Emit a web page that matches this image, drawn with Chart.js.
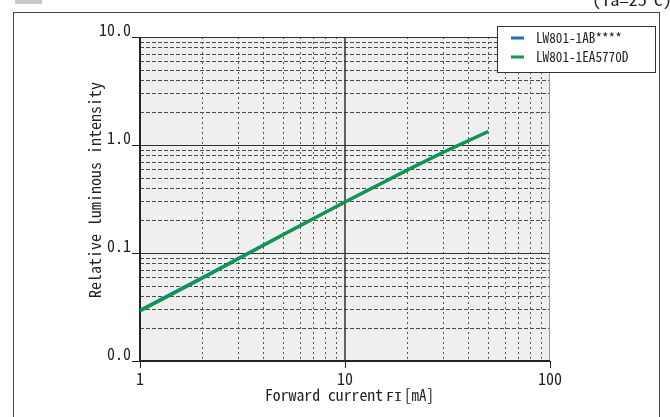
<!DOCTYPE html>
<html>
<head>
<meta charset="utf-8">
<script src="https://cdn.jsdelivr.net/npm/chart.js@4.4.1/dist/chart.umd.min.js"></script>
<style>
  html, body { margin: 0; padding: 0; background: #fff; }
  #wrap { width: 670px; height: 417px; position: relative; }
</style>
</head>
<body>
<div id="wrap"><canvas id="chart" width="670" height="417"></canvas></div>
<script>
// forward current [mA] and relative luminous intensity
const currents = [1, 2, 5, 10, 20, 30, 50];
const lw801_1ab = [0.0295, 0.059, 0.149, 0.298, 0.585, 0.855, 1.33];
const lw801_1ea = [0.029, 0.058, 0.147, 0.295, 0.58, 0.85, 1.34];
const seriesNames = ['LW801-1AB****', 'LW801-1EA5770D'];
const seriesColors = ['#1f6fc0', '#0b9a4a'];
const xTicks = [1, 10, 100];
const yTicks = [0.01, 0.1, 1, 10];
const yTickLabels = ['0.0', '0.1', '1.0', '10.0'];

const FONT = '"Noto Sans Mono CJK JP", "DejaVu Sans Mono", monospace';

function pts(ys) {
  return currents.map((x, i) => ({ x: x, y: ys[i] }));
}

// draw text squeezed to a given width (the original font is narrow)
function fitText(ctx, text, x, y, w) {
  const m = ctx.measureText(text).width;
  ctx.save();
  ctx.translate(x, y);
  ctx.scale(w / m, 1);
  ctx.fillText(text, 0, 0);
  ctx.restore();
}

const gridPlugin = {
  id: 'grid',
  beforeDatasetsDraw(chart) {
    const ctx = chart.ctx;
    const { left, right, top, bottom } = chart.chartArea;
    const xs = chart.scales.x, ys = chart.scales.y;
    ctx.save();
    ctx.fillStyle = '#efefef';
    ctx.fillRect(left, top, right - left, bottom - top);

    // minor horizontals
    ctx.strokeStyle = '#4a4a4a';
    ctx.lineWidth = 1;
    ctx.setLineDash([4, 2]);
    [0.01, 0.1, 1].forEach(d => {
      for (let m = 2; m <= 9; m++) {
        const y = Math.round(ys.getPixelForValue(m * d)) + 0.5;
        ctx.beginPath(); ctx.moveTo(left, y); ctx.lineTo(right, y); ctx.stroke();
      }
    });
    // minor verticals
    ctx.strokeStyle = '#555';
    ctx.setLineDash([2, 3]);
    [1, 10].forEach(d => {
      for (let m = 2; m <= 9; m++) {
        const x = Math.round(xs.getPixelForValue(m * d)) + 0.5;
        ctx.beginPath(); ctx.moveTo(x, top); ctx.lineTo(x, bottom); ctx.stroke();
      }
    });
    ctx.setLineDash([]);
    // major lines
    ctx.strokeStyle = '#333';
    [0.1, 1, 10].forEach(v => {
      const y = Math.round(ys.getPixelForValue(v)) + 0.5;
      ctx.beginPath(); ctx.moveTo(left, y); ctx.lineTo(right, y); ctx.stroke();
    });
    ctx.lineWidth = 1.5;
    const x10 = Math.round(xs.getPixelForValue(10));
    ctx.beginPath(); ctx.moveTo(x10, top); ctx.lineTo(x10, bottom); ctx.stroke();
    ctx.lineWidth = 1;
    ctx.strokeStyle = '#999';
    ctx.beginPath(); ctx.moveTo(right - 0.5, top); ctx.lineTo(right - 0.5, bottom); ctx.stroke();
    // axes
    ctx.strokeStyle = '#222';
    ctx.lineWidth = 2;
    ctx.beginPath();
    ctx.moveTo(left, top); ctx.lineTo(left, bottom); ctx.lineTo(right, bottom);
    ctx.stroke();
    ctx.restore();
  },
  afterDraw(chart) {
    const ctx = chart.ctx;
    ctx.save();
    // outer frame and header bits
    ctx.strokeStyle = '#444';
    ctx.lineWidth = 1;
    ctx.strokeRect(13.5, 12.5, 646, 430);
    ctx.fillStyle = '#c8c8c8';
    ctx.fillRect(15, 0, 27, 4);
    ctx.fillStyle = '#222';
    ctx.font = '16px ' + FONT;
    ctx.textBaseline = 'alphabetic';
    ctx.textAlign = 'left';
    fitText(ctx, '(Ta=25°C)', 592, 6, 80);

    // axis titles
    ctx.font = '16px ' + FONT;
    ctx.textBaseline = 'middle';
    ctx.save();
    ctx.translate(95, 190);
    ctx.rotate(-Math.PI / 2);
    const yt = 'Relative luminous intensity';
    const yw = 216;
    fitText(ctx, yt, -yw / 2, 0, yw);
    ctx.restore();

    ctx.textBaseline = 'alphabetic';
    fitText(ctx, 'Forward current', 265, 401, 118);
    ctx.font = '11px ' + FONT;
    fitText(ctx, 'FI', 386, 401, 16);
    ctx.font = '16px ' + FONT;
    fitText(ctx, '[mA]', 404, 401, 30);

    // legend
    ctx.fillStyle = '#fff';
    ctx.fillRect(497.5, 26.5, 158, 46);
    ctx.strokeStyle = '#333';
    ctx.strokeRect(497.5, 26.5, 158, 46);
    ctx.font = '14px ' + FONT;
    ctx.textBaseline = 'middle';
    seriesNames.forEach((name, i) => {
      const y = 38 + i * 19;
      ctx.strokeStyle = seriesColors[i];
      ctx.lineWidth = 3;
      ctx.beginPath(); ctx.moveTo(511, y); ctx.lineTo(524, y); ctx.stroke();
      ctx.fillStyle = '#222';
      fitText(ctx, name, 536, y, name.length * 6.6);
    });
    ctx.restore();
  }
};

new Chart(document.getElementById('chart'), {
  type: 'line',
  data: {
    datasets: [
      { label: seriesNames[0], data: pts(lw801_1ab), borderColor: seriesColors[0], order: 1 },
      { label: seriesNames[1], data: pts(lw801_1ea), borderColor: seriesColors[1], order: 0 }
    ]
  },
  options: {
    responsive: false,
    animation: false,
    layout: { padding: { left: 0, right: 120, top: 37, bottom: 0 } },
    elements: {
      line: { borderWidth: 3, tension: 0, fill: false },
      point: { radius: 0 }
    },
    plugins: { legend: { display: false }, tooltip: { enabled: false } },
    scales: {
      x: {
        type: 'logarithmic',
        min: 1,
        max: 100,
        afterBuildTicks: s => { s.ticks = xTicks.map(v => ({ value: v })); },
        afterFit: s => { s.height = 56; },
        ticks: {
          callback: v => String(v),
          color: '#222',
          font: { family: FONT, size: 16 },
          maxRotation: 0,
          autoSkip: false,
          padding: 1
        },
        grid: { display: true, drawOnChartArea: false, drawTicks: true, tickLength: 7, color: '#222' },
        border: { display: false }
      },
      y: {
        type: 'logarithmic',
        min: 0.01,
        max: 10,
        afterBuildTicks: s => { s.ticks = yTicks.map(v => ({ value: v })); },
        afterFit: s => { s.width = 140; },
        ticks: {
          callback: (v, i) => yTickLabels[i],
          color: '#222',
          font: { family: FONT, size: 16 },
          autoSkip: false,
          labelOffset: -7,
          padding: 1
        },
        grid: { display: true, drawOnChartArea: false, drawTicks: true, tickLength: 8, color: '#222' },
        border: { display: false }
      }
    }
  },
  plugins: [gridPlugin]
});
</script>
</body>
</html>
